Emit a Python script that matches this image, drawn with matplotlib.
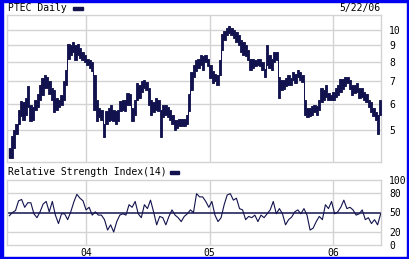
import numpy as np
import pandas as pd
import matplotlib
matplotlib.use("Agg")
import matplotlib.pyplot as plt
import matplotlib.dates as mdates
from matplotlib.patches import Rectangle
from matplotlib.ticker import FixedLocator, FixedFormatter, NullLocator

# ---------------- data (weekly high / low) ----------------
price_low = [4.1, 4.1, 4.4, 4.85, 5.2, 5.5, 5.35, 5.55, 5.85, 5.3,
             5.35, 5.75, 5.85, 6.15, 6.35, 6.7, 6.7, 6.4, 6.15, 5.65,
             5.75, 5.85, 5.95, 6.15, 6.85, 8.2, 8.4, 8.6, 8.1, 8.4,
             8.25, 8.1, 8.0, 7.85, 7.7, 7.5, 5.75, 5.3, 5.45, 5.35,
             4.75, 5.2, 5.3, 5.35, 5.3, 5.2, 5.3, 5.7, 5.75, 5.7,
             5.95, 5.95, 5.3, 5.55, 6.15, 6.25, 6.5, 6.7, 6.6, 5.95,
             5.55, 5.65, 5.75, 5.7, 4.75, 5.45, 5.55, 5.45, 5.35, 5.2,
             5.0, 5.05, 5.15, 5.15, 5.15, 5.2, 5.7, 6.6, 7.2, 7.5,
             7.7, 7.85, 7.6, 8.0, 7.8, 7.15, 6.9, 7.0, 6.85, 7.3,
             8.7, 9.3, 9.65, 9.8, 9.65, 9.45, 9.2, 9.0, 8.6, 8.4,
             8.35, 8.1, 7.6, 7.7, 7.8, 7.85, 7.8, 7.6, 7.2, 7.85,
             7.7, 7.6, 8.0, 8.1, 6.25, 6.6, 6.65, 6.8, 6.85, 6.85,
             7.05, 6.9, 7.2, 7.05, 6.95, 5.55, 5.45, 5.5, 5.55, 5.65,
             5.55, 5.75, 6.05, 6.15, 6.3, 6.15, 6.15, 6.15, 6.3, 6.35,
             6.5, 6.65, 6.8, 6.9, 6.65, 6.35, 6.45, 6.5, 6.25, 6.3,
             6.15, 6.05, 5.85, 5.65, 5.5, 5.35, 4.85, 5.55]
price_high = [4.4, 4.8, 5.0, 5.2, 5.75, 6.1, 6.05, 6.25, 6.8, 5.95,
              5.85, 6.15, 6.4, 6.85, 7.15, 7.3, 7.2, 7.0, 6.7, 6.6,
              6.25, 6.15, 6.35, 7.0, 7.6, 9.1, 9.0, 9.2, 9.0, 9.1,
              8.85, 8.6, 8.4, 8.2, 8.1, 8.0, 7.3, 6.15, 5.8, 5.75,
              5.2, 5.7, 5.8, 5.95, 5.75, 5.7, 5.75, 6.1, 6.15, 6.15,
              6.45, 6.4, 5.8, 6.15, 6.9, 6.85, 7.0, 7.05, 6.95, 6.7,
              6.15, 6.05, 6.25, 6.15, 5.75, 5.95, 5.95, 5.85, 5.75, 5.55,
              5.35, 5.35, 5.4, 5.4, 5.4, 5.55, 6.4, 7.45, 7.85, 8.1,
              8.2, 8.4, 8.35, 8.4, 8.2, 7.85, 7.55, 7.35, 7.3, 8.1,
              9.7, 9.9, 10.15, 10.3, 10.15, 10.0, 9.85, 9.65, 9.3, 9.2,
              9.0, 8.7, 8.2, 8.2, 8.1, 8.2, 8.2, 8.0, 7.65, 9.0,
              8.4, 8.2, 8.6, 8.6, 7.2, 7.05, 7.05, 7.15, 7.3, 7.15,
              7.45, 7.35, 7.6, 7.45, 7.3, 6.15, 5.8, 5.8, 5.9, 5.95,
              5.9, 6.15, 6.7, 6.6, 6.85, 6.45, 6.35, 6.5, 6.7, 6.85,
              7.1, 7.1, 7.2, 7.2, 7.05, 6.85, 6.85, 6.9, 6.7, 6.7,
              6.5, 6.4, 6.15, 6.05, 5.8, 5.65, 5.55, 6.15]

rsi_values = [45, 50, 53, 68, 70, 58, 65, 65, 48, 42,
              51, 63, 67, 51, 67, 46, 33, 48, 48, 39,
              51, 66, 78, 72, 68, 54, 58, 46, 51, 46,
              46, 39, 23, 31, 20, 36, 46, 48, 46, 62,
              58, 67, 48, 42, 62, 56, 69, 51, 31, 44,
              42, 31, 44, 54, 46, 42, 36, 44, 48, 54,
              50, 79, 74, 74, 67, 58, 67, 46, 36, 42,
              62, 77, 79, 69, 72, 56, 54, 39, 44, 42,
              46, 36, 46, 42, 48, 54, 67, 48, 56, 48,
              31, 39, 43, 51, 54, 48, 56, 46, 23, 26,
              36, 44, 39, 62, 56, 67, 48, 51, 58, 69,
              56, 58, 54, 46, 48, 54, 39, 42, 33, 39,
              31, 48]

year_ticks = ["2004-01-01", "2005-01-01", "2006-01-01"]
year_labels = ["04", "05", "06"]
price_ticks = [5, 6, 7, 8, 9, 10]
rsi_ticks = [0, 20, 50, 80, 100]

symbol = "PTEC Daily"
date_label = "5/22/06"
rsi_title = "Relative Strength Index(14)"

# ---------------- styling ----------------
NAVY = "#12124e"
GRID = "#d3d3d3"
BLUE = "#0000f0"
W, H = 410, 259
FONT = "DejaVu Sans Mono"
FS = 7

plt.rcParams["font.family"] = [FONT]

fig = plt.figure(figsize=(W / 100, H / 100), dpi=100)
fig.patch.set_facecolor("white")


def fx(px):
    return px / W


def fy(py):
    return 1 - py / H


price_dates = pd.date_range("2003-05-19", periods=len(price_low), freq="7D")
rsi_dates = pd.date_range("2003-05-19", "2006-05-22", periods=len(rsi_values))
xmin = pd.Timestamp("2003-05-12")
xmax = pd.Timestamp("2006-05-23")
yticks_dt = [pd.Timestamp(d) for d in year_ticks]

ax1 = fig.add_axes([fx(7), fy(162), fx(381 - 7), (162 - 15) / H])
ax2 = fig.add_axes([fx(7), fy(245), fx(381 - 7), (245 - 180) / H])

for ax in (ax1, ax2):
    ax.set_facecolor("white")
    for s in ax.spines.values():
        s.set_color(GRID)
        s.set_linewidth(1.0)
    ax.set_xlim(xmin, xmax)
    ax.xaxis.set_major_locator(FixedLocator(mdates.date2num(yticks_dt)))
    for d in yticks_dt:
        ax.axvline(d, color=GRID, lw=1.0, zorder=0)
    ax.yaxis.tick_right()
    ax.tick_params(axis="both", length=0, labelsize=FS, colors="black")
    ax.tick_params(axis="y", pad=6)

# price panel
ax1.set_yscale("log")
ax1.set_ylim(4.0, 11.1)
ax1.yaxis.set_major_locator(FixedLocator(price_ticks))
ax1.yaxis.set_major_formatter(FixedFormatter([str(t) for t in price_ticks]))
ax1.yaxis.set_minor_locator(NullLocator())
for t in price_ticks:
    ax1.axhline(t, color=GRID, lw=1.0, zorder=0)
ax1.set_xticklabels([])
ax1.fill_between(price_dates, price_low, price_high, color=NAVY, lw=0.6,
                 edgecolor=NAVY, step="mid", zorder=3)
ax1.vlines(price_dates, price_low, price_high, color=NAVY, lw=1.0, zorder=3)

# RSI panel
ax2.set_ylim(0, 100)
ax2.yaxis.set_major_locator(FixedLocator(rsi_ticks))
ax2.yaxis.set_major_formatter(FixedFormatter([str(t) for t in rsi_ticks]))
for t in (20, 80):
    ax2.axhline(t, color=GRID, lw=1.0, zorder=0)
ax2.axhline(50, color=NAVY, lw=1.1, zorder=2)
ax2.plot(rsi_dates, rsi_values, color=NAVY, lw=0.8, zorder=3)
ax2.xaxis.set_major_formatter(FixedFormatter(year_labels))
ax2.tick_params(axis="x", pad=2)

# titles / legend bars
fig.text(fx(8), fy(8), symbol, fontsize=FS, va="center", ha="left")
fig.patches.append(Rectangle((fx(73), fy(9.5)), fx(10), 3 / H,
                             transform=fig.transFigure, color=NAVY))
fig.text(fx(380), fy(8), date_label, fontsize=FS, va="center", ha="right")
fig.text(fx(8), fy(172), rsi_title, fontsize=FS, va="center", ha="left")
fig.patches.append(Rectangle((fx(170), fy(173.5)), fx(9), 3 / H,
                             transform=fig.transFigure, color=NAVY))

# blue frame
for rect in [(0, 0, fx(3), 1), (1 - fx(3), 0, fx(3), 1),
             (0, 1 - 2 / H, 1, 2 / H), (0, 0, 1, 2 / H)]:
    fig.patches.append(Rectangle(rect[:2], rect[2], rect[3],
                                 transform=fig.transFigure, color=BLUE))

fig.savefig("out.png", dpi=100, facecolor="white")
